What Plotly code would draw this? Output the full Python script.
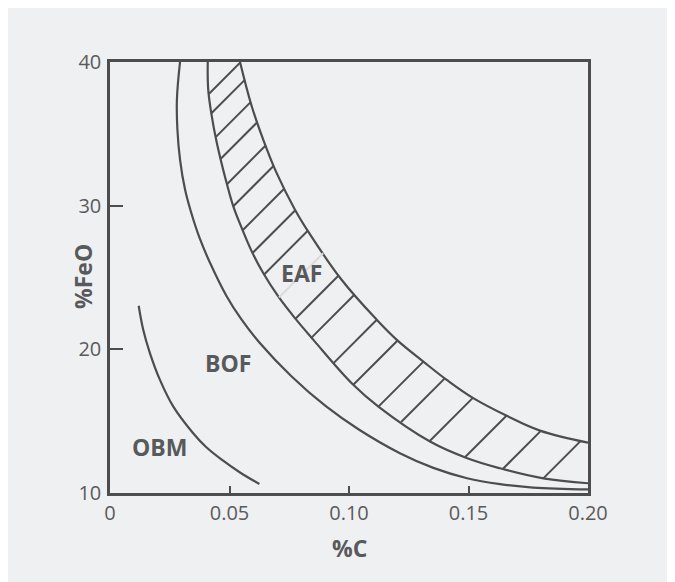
import numpy as np
import plotly.graph_objects as go

# ---------------- data ----------------
x_tickvals = [0, 0.05, 0.10, 0.15, 0.20]
x_ticktext = ["0", "0.05", "0.10", "0.15", "0.20"]
y_tickvals = [10, 20, 30, 40]
y_ticktext = ["10", "20", "30", "40"]

# OBM curve
obm_x = [0.0120, 0.0139, 0.0167, 0.0209, 0.0265, 0.0348, 0.0402, 0.0469, 0.0544, 0.0625]
obm_y = [23.03, 21.36, 19.74, 17.87, 16.01, 14.16, 13.20, 12.30, 11.43, 10.63]

# BOF upper boundary curve
bof_x = [0.0293, 0.0280, 0.0282, 0.0293, 0.0314, 0.0339, 0.0376, 0.0417, 0.0488, 0.0550,
         0.0626, 0.0759, 0.0903, 0.1041, 0.1213, 0.1353, 0.1494, 0.1632, 0.1770, 0.2000]
bof_y = [40.0, 37.39, 35.30, 33.21, 31.12, 29.56, 27.70, 26.08, 23.70, 22.08,
         20.46, 18.13, 16.04, 14.42, 12.77, 11.75, 11.03, 10.62, 10.38, 10.25]

# EAF band: lower (inner) boundary
eaf_lo_x = [0.0409, 0.0411, 0.0426, 0.0444, 0.0466, 0.0488, 0.0516, 0.0551, 0.0593, 0.0641,
            0.0704, 0.0774, 0.0851, 0.1018, 0.1123, 0.1339, 0.1492, 0.1632, 0.1813, 0.2000]
eaf_lo_y = [40.0, 38.08, 36.22, 34.60, 33.00, 31.58, 29.95, 28.45, 26.82, 25.31,
            23.68, 22.17, 20.66, 17.53, 16.01, 13.58, 12.44, 11.72, 11.02, 10.68]

# EAF band: upper (outer) boundary
eaf_hi_x = [0.0544, 0.0593, 0.0641, 0.0697, 0.0774, 0.0833, 0.0969, 0.1116, 0.1200,
            0.1311, 0.1409, 0.1520, 0.1660, 0.1799, 0.2000]
eaf_hi_y = [40.0, 36.92, 34.60, 32.28, 29.72, 28.10, 24.84, 22.06, 20.66,
            19.15, 17.87, 16.60, 15.37, 14.34, 13.50]

# hatch lines: where each hatch meets the inner EAF boundary
hatch_x = [0.0418, 0.0426, 0.0439, 0.0460, 0.0488, 0.0523, 0.0558, 0.0603, 0.0653, 0.0711,
           0.0774, 0.0837, 0.0928, 0.1018, 0.1123, 0.1220, 0.1339, 0.1485, 0.1639, 0.1813]
hatch_y = [37.85, 36.46, 34.72, 33.21, 31.47, 30.08, 28.34, 26.82, 25.35, 23.68,
           22.10, 20.71, 18.92, 17.53, 16.01, 14.97, 13.64, 12.49, 11.60, 11.02]
hatch_under_label = 9  # the hatch that runs behind the "EAF" label

region_labels = ["EAF", "BOF", "OBM"]
region_label_x = [0.0803, 0.0494, 0.0209]
region_label_y = [25.33, 19.06, 13.21]

x_title = "%C"
y_title = "%FeO"

# ---------------- layout constants ----------------
OFFSET = 8                      # page body margin
W, H = 675, 574
ML, MR, MT, MB = 102, 95, 54, 89
PLOT_W = W - ML - MR
PLOT_H = H - MT - MB
X_RANGE = [0, 0.2]
Y_RANGE = [10, 40]
SX = PLOT_W / (X_RANGE[1] - X_RANGE[0])
SY = PLOT_H / (Y_RANGE[1] - Y_RANGE[0])

LINE = "#4d4d4f"
TEXT = "#58595b"
BG = "#eff0f2"


def px_x(p):
    """page pixel -> paper x"""
    return (p - OFFSET - ML) / PLOT_W


def px_y(p):
    """page pixel -> paper y"""
    return (H - MB - (p - OFFSET)) / PLOT_H


def point_on_curve(k, cx, cy):
    """Point of a boundary hit by the 45-degree hatch line with key k."""
    cx = np.asarray(cx, float)
    cy = np.asarray(cy, float)
    kk = cx * SX - cy * SY
    return float(np.interp(k, kk, cx)), float(np.interp(k, kk, cy))


fig = go.Figure()

curve_style = dict(color=LINE, width=2.2, shape="spline", smoothing=1.1)
for xs, ys in [(obm_x, obm_y), (bof_x, bof_y), (eaf_lo_x, eaf_lo_y), (eaf_hi_x, eaf_hi_y)]:
    fig.add_trace(go.Scatter(x=xs, y=ys, mode="lines", line=curve_style,
                             hoverinfo="skip", showlegend=False))

hx_dark, hy_dark, hx_light, hy_light = [], [], [], []
for i, (hx, hy) in enumerate(zip(hatch_x, hatch_y)):
    k = hx * SX - hy * SY
    x0, y0 = point_on_curve(k, eaf_lo_x, eaf_lo_y)
    x1, y1 = point_on_curve(k, eaf_hi_x, eaf_hi_y)
    if i == hatch_under_label:
        hx_light += [x0, x1, None]
        hy_light += [y0, y1, None]
    else:
        hx_dark += [x0, x1, None]
        hy_dark += [y0, y1, None]

fig.add_trace(go.Scatter(x=hx_light, y=hy_light, mode="lines",
                         line=dict(color="#d9dadc", width=2), hoverinfo="skip", showlegend=False))
fig.add_trace(go.Scatter(x=hx_dark, y=hy_dark, mode="lines",
                         line=dict(color=LINE, width=2), hoverinfo="skip", showlegend=False))

annotations = []
for t, lx, ly in zip(region_labels, region_label_x, region_label_y):
    annotations.append(dict(x=lx, y=ly, xref="x", yref="y", text="<b>%s</b>" % t,
                            showarrow=False, font=dict(family="Open Sans", size=23, color=TEXT),
                            xanchor="center", yanchor="middle"))

annotations.append(dict(x=px_x(349), y=px_y(548), xref="paper", yref="paper",
                        text="<b>%s</b>" % x_title, showarrow=False,
                        font=dict(family="Open Sans", size=23, color=TEXT),
                        xanchor="center", yanchor="middle"))
annotations.append(dict(x=px_x(83), y=px_y(277), xref="paper", yref="paper",
                        text="<b>%s</b>" % y_title, showarrow=False, textangle=-90,
                        font=dict(family="Open Sans", size=23, color=TEXT),
                        xanchor="center", yanchor="middle"))

tickfont = dict(family="Open Sans", size=20, color="#5a5a5c")
axis_common = dict(showgrid=False, zeroline=False, showline=True, mirror=True,
                   linecolor=LINE, linewidth=2.5, ticks="inside", tickwidth=1.8,
                   tickcolor=LINE, tickfont=tickfont, fixedrange=True)

fig.update_layout(
    width=W, height=H,
    margin=dict(l=ML, r=MR, t=MT, b=MB, pad=0),
    paper_bgcolor=BG,
    plot_bgcolor=BG,
    showlegend=False,
    xaxis=dict(range=X_RANGE, tickvals=x_tickvals, ticktext=x_ticktext, ticklen=7,
               ticklabelstandoff=0, **axis_common),
    yaxis=dict(range=Y_RANGE, tickvals=y_tickvals, ticktext=y_ticktext, ticklen=13,
               ticklabelstandoff=2, **axis_common),
    annotations=annotations,
)

fig.write_html("out.html", config={"displayModeBar": False})
